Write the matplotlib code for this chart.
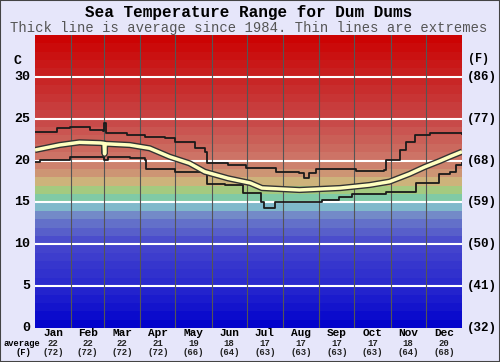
import matplotlib
matplotlib.use("Agg")
import matplotlib.pyplot as plt
import numpy as np
from matplotlib.colors import LinearSegmentedColormap

# month labels and monthly averages shown under the axis
months = ["Jan", "Feb", "Mar", "Apr", "May", "Jun", "Jul", "Aug", "Sep", "Oct", "Nov", "Dec"]
avg_c = [22, 22, 22, 21, 19, 18, 17, 17, 17, 17, 18, 20]
avg_f = [72, 72, 72, 72, 66, 64, 63, 63, 63, 63, 64, 68]
month_days = [31, 28, 31, 30, 31, 30, 31, 31, 30, 31, 30, 31]

# average line (day of year, deg C)
mean_day = [0, 21, 38, 56, 59.0, 59.5, 60.0, 64, 81, 98, 115, 132, 145, 165, 184, 194,
            226, 261, 286, 303, 320, 333, 346, 356, 365]
mean_t = [21.26, 21.86, 22.18, 22.10, 22.05, 20.80, 22.00, 21.98, 21.86, 21.47, 20.46, 19.68,
          18.67, 17.88, 17.32, 16.72, 16.49, 16.72, 17.08, 17.48, 18.40, 19.23, 19.95, 20.55, 21.06]

# maximum (stepped)
max_day = [0, 10, 19, 30, 47, 58, 59, 61, 66, 79, 94, 111, 120, 137, 145, 147, 165, 180,
           206, 226, 230, 234, 240, 274, 298, 300, 312, 317, 325, 338, 358, 365]
max_t = [23.41, 23.41, 23.89, 24.05, 23.65, 23.53, 24.49, 23.29, 23.33, 23.06, 22.85, 22.70,
         22.26, 21.50, 21.06, 19.71, 19.47, 19.11, 18.64, 18.52, 17.92, 18.52, 19.00, 18.76,
         18.88, 20.07, 21.27, 22.26, 23.06, 23.30, 23.30, 23.16]

# minimum (stepped)
min_day = [0, 4, 30, 56, 59, 62, 81, 94, 95, 120, 145, 147, 162, 178, 193, 196, 203, 205,
           226, 245, 260, 271, 300, 323, 326, 345, 355, 360, 365]
min_t = [19.83, 20.07, 20.46, 20.46, 20.07, 20.40, 20.31, 20.07, 19.00, 18.67, 18.40, 17.20,
         17.08, 16.13, 15.09, 14.33, 14.33, 15.01, 15.00, 15.25, 15.60, 16.00, 16.25, 16.28,
         17.32, 18.40, 18.60, 19.47, 19.71]

c_ticks = [0, 5, 10, 15, 20, 25, 30]
f_ticks = ["(32)", "(41)", "(50)", "(59)", "(68)", "(77)", "(86)"]

bg = "#E6E6FA"
mono = "Liberation Mono"

fig = plt.figure(figsize=(5, 3.62), dpi=100, facecolor=bg)
ax = fig.add_axes([35 / 500, 34 / 362, 427 / 500, 293 / 362])

# temperature colour bands
stops = [(0, (0, 0, 204)), (5, (40, 40, 205)), (10, (70, 70, 205)), (13, (105, 120, 200)),
         (14, (128, 160, 200)), (15, (128, 205, 205)), (16, (128, 200, 128)),
         (17, (205, 205, 128)), (18, (205, 160, 120)), (20, (205, 120, 105)),
         (25, (200, 70, 70)), (30, (200, 35, 35)), (35, (204, 0, 0))]
cmap = LinearSegmentedColormap.from_list(
    "sea", [(t / 35, tuple(v / 255 for v in c)) for t, c in stops])
for i in range(35):
    ax.axhspan(i, i + 1, color=cmap((i + 0.5) / 35), lw=0, zorder=0)

# grid
for t in c_ticks[1:]:
    ax.axhline(t, color="white", lw=1.5, zorder=1)
edges = np.cumsum(month_days)
for e in edges[:-1]:
    ax.axvline(e, color="#555555", lw=0.8, zorder=1)

ax.step(max_day, max_t, where="post", color="#1a1a1a", lw=1.3, zorder=3)
ax.step(min_day, min_t, where="post", color="#1a1a1a", lw=1.3, zorder=3)
ax.plot(mean_day, mean_t, color="#333333", lw=4.5, zorder=4, solid_capstyle="butt")
ax.plot(mean_day, mean_t, color="#FFFFC0", lw=2.5, zorder=5, solid_capstyle="butt")

ax.set_xlim(0, 365)
ax.set_ylim(0, 35)
ax.set_xticks([])
ax.set_yticks([])
for s in ax.spines.values():
    s.set_visible(False)

# left and right axis labels
for t, f in zip(c_ticks, f_ticks):
    ax.text(-4, t, str(t), ha="right", va="center", fontsize=9.5,
            fontweight="bold", family=mono, clip_on=False)
    ax.text(369, t, f, ha="left", va="center", fontsize=9, fontweight="bold",
            family=mono, clip_on=False)
fig.text(17 / 500, 1 - 61 / 362, "C", ha="center", va="center", fontsize=9.5,
         fontweight="bold", family=mono)
fig.text(479 / 500, 1 - 59 / 362, "(F)", ha="center", va="center", fontsize=8.5,
         fontweight="bold", family=mono)

# month labels and averages
starts = edges - np.array(month_days)
centers = starts + np.array(month_days) / 2
for m, cx, ac, af in zip(months, centers, avg_c, avg_f):
    xf = (35 + cx / 365 * 427) / 500
    fig.text(xf, 1 - 333.5 / 362, m, ha="center", va="center", fontsize=8,
             fontweight="bold", family=mono)
    fig.text(xf, 1 - 343.5 / 362, str(ac), ha="center", va="center", fontsize=6.5,
             fontweight="bold", family=mono, color="#222222")
    fig.text(xf, 1 - 352.5 / 362, "(%d)" % af, ha="center", va="center", fontsize=6.5,
             fontweight="bold", family=mono, color="#222222")
fig.text(22 / 500, 1 - 343.5 / 362, "average", ha="center", va="center", fontsize=6.3,
         fontweight="bold", family=mono)
fig.text(23 / 500, 1 - 352.5 / 362, "(F)", ha="center", va="center", fontsize=6.3,
         fontweight="bold", family=mono)

# titles
fig.text(0.497, 1 - 13 / 362, "Sea Temperature Range for Dum Dums", ha="center",
         va="center", fontsize=11.5, fontweight="bold", family=mono)
fig.text(0.497, 1 - 28 / 362, "Thick line is average since 1984. Thin lines are extremes",
         ha="center", va="center", fontsize=10, family=mono, color="#555555")

# outer border
fig.patches.append(plt.Rectangle((0, 0), 1, 1, transform=fig.transFigure, fill=False,
                                 edgecolor="#444444", lw=1.5))

fig.savefig("out.png", dpi=100, facecolor=bg)
